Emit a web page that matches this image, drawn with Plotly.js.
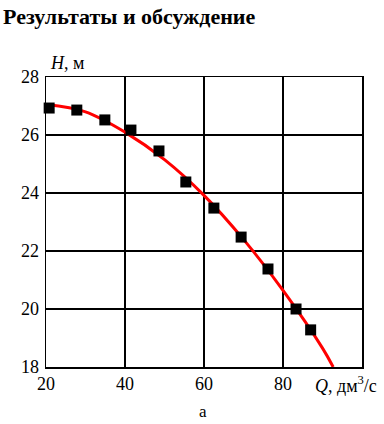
<!DOCTYPE html>
<html>
<head>
<meta charset="utf-8">
<script src="https://cdn.plot.ly/plotly-3.0.1.min.js"></script>
<style>html,body{margin:0;padding:0;background:#fff;}#chart{width:384px;height:424px;}</style>
</head>
<body>
<div id="chart"></div>
<script>
// Measured points
const measQ = [20.8, 27.8, 34.9, 41.5, 48.6, 55.4, 62.5, 69.4, 76.2, 83.3, 87.0];
const measH = [26.93, 26.86, 26.52, 26.17, 25.45, 24.38, 23.48, 22.48, 21.38, 20.0, 19.28];
// Fitted curve
const fitQ = [20, 30, 40, 50, 60, 70, 80, 90, 92.7];
const fitH = [27.05, 26.8, 26.1, 25.15, 23.92, 22.4, 20.64, 18.65, 18.0];
const xTicks = [20, 40, 60, 80];
const yTicks = [18, 20, 22, 24, 26, 28];

const serif = "Times New Roman, Liberation Serif, DejaVu Serif, serif";

const traces = [
  {x: fitQ, y: fitH, mode: 'lines', line: {color: '#ff0000', width: 3, shape: 'spline'}, hoverinfo: 'skip'},
  {x: measQ, y: measH, mode: 'markers', marker: {symbol: 'square', color: '#000', size: 11}, cliponaxis: false}
];

const layout = {
  width: 384, height: 424,
  margin: {l: 46, r: 22, t: 77, b: 57},
  paper_bgcolor: '#fff', plot_bgcolor: '#fff',
  showlegend: false,
  font: {family: serif, size: 18, color: '#000'},
  title: {text: '<b>Результаты и обсуждение</b>', font: {family: serif, size: 22, color: '#000'}, x: 0.008, xanchor: 'left', y: 0.962, yanchor: 'middle'},
  xaxis: {
    range: [20, 100], tickvals: xTicks, ticktext: xTicks.map(String),
    showgrid: true, gridcolor: '#000', gridwidth: 1.3,
    showline: true, linecolor: '#000', linewidth: 1.5, mirror: true,
    zeroline: false, ticks: '', tickfont: {family: serif, size: 18, color: '#000'}
  },
  yaxis: {
    range: [18, 28], tickvals: yTicks, ticktext: yTicks.map(String),
    showgrid: true, gridcolor: '#000', gridwidth: 1.3,
    showline: true, linecolor: '#000', linewidth: 1.5, mirror: true,
    zeroline: false, ticks: '', ticklabelstandoff: 2, tickfont: {family: serif, size: 18, color: '#000'}
  },
  annotations: [
    {text: '<i>H</i>, м', xref: 'paper', yref: 'paper', x: 0.005, y: 1.0, xanchor: 'left', yanchor: 'bottom', yshift: 2, showarrow: false, font: {family: serif, size: 18, color: '#000'}},
    {text: '<i>Q</i>, дм<sup>3</sup>/с', xref: 'paper', yref: 'paper', x: 1.055, y: 0, xanchor: 'right', yanchor: 'top', yshift: -4, showarrow: false, font: {family: serif, size: 18, color: '#000'}},
    {text: 'а', xref: 'paper', yref: 'paper', x: 0.497, y: 0, xanchor: 'center', yanchor: 'middle', yshift: -44, showarrow: false, font: {family: serif, size: 17, color: '#000'}}
  ]
};

Plotly.newPlot('chart', traces, layout, {displayModeBar: false, staticPlot: true});
</script>
</body>
</html>
